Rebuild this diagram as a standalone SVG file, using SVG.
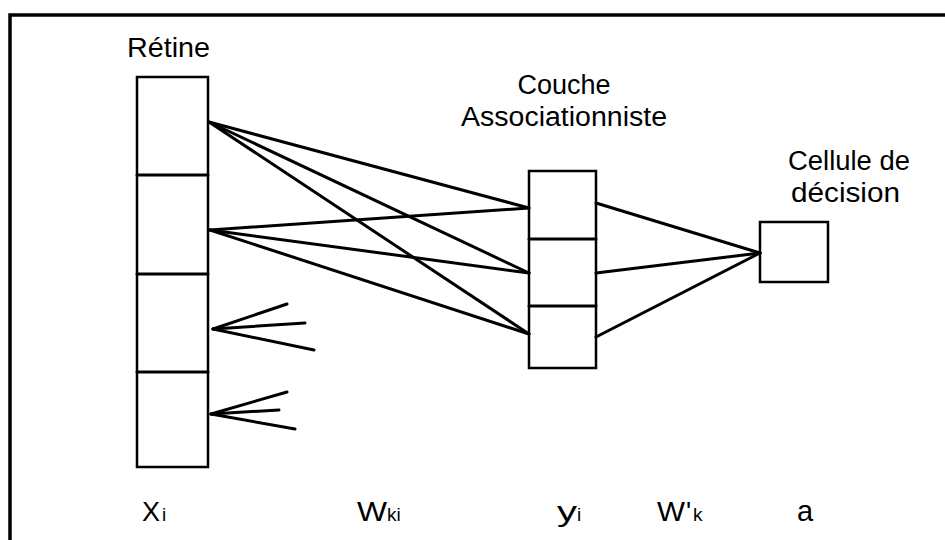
<svg xmlns="http://www.w3.org/2000/svg" width="945" height="540" viewBox="0 0 945 540">
<style>
.box{fill:#fff;stroke:#000;stroke-width:2.5}
.ln{stroke:#000;stroke-width:3;stroke-linecap:round;fill:none}
.t{font-family:"Liberation Sans",Arial,sans-serif;fill:#000}
.sub{font-size:19px}
</style>
<rect width="945" height="540" fill="#fff"/>
<g id="frame">
<path d="M10 540 V15 H945" fill="none" stroke="#000" stroke-width="3.5"/>
</g>
<g id="retine">
<text class="t" x="127" y="57" font-size="28" textLength="83" lengthAdjust="spacingAndGlyphs">Rétine</text>
<rect class="box" x="137" y="77" width="71" height="390"/>
<line class="ln" x1="137" y1="175" x2="208" y2="175"/>
<line class="ln" x1="137" y1="274" x2="208" y2="274"/>
<line class="ln" x1="137" y1="372" x2="208" y2="372"/>
</g>
<g id="couche">
<text class="t" x="564" y="94" font-size="27" text-anchor="middle">Couche</text>
<text class="t" x="461" y="126" font-size="27" textLength="206" lengthAdjust="spacingAndGlyphs">Associationniste</text>
<rect class="box" x="529" y="171" width="67" height="197"/>
<line class="ln" x1="529" y1="239" x2="596" y2="239"/>
<line class="ln" x1="529" y1="306" x2="596" y2="306"/>
</g>
<g id="decision">
<text class="t" x="788" y="170" font-size="27" textLength="122" lengthAdjust="spacingAndGlyphs">Cellule de</text>
<text class="t" x="791" y="202" font-size="27" textLength="109" lengthAdjust="spacingAndGlyphs">décision</text>
<rect class="box" x="760" y="222" width="68" height="60"/>
</g>
<g id="connectors">
<line class="ln" x1="209" y1="122" x2="529" y2="208"/>
<line class="ln" x1="209" y1="122" x2="529" y2="273"/>
<line class="ln" x1="209" y1="122" x2="529" y2="334"/>
<line class="ln" x1="210" y1="230" x2="529" y2="208"/>
<line class="ln" x1="210" y1="230" x2="529" y2="273"/>
<line class="ln" x1="210" y1="230" x2="529" y2="334"/>
<line class="ln" x1="213" y1="329" x2="287" y2="304"/>
<line class="ln" x1="213" y1="329" x2="305" y2="323"/>
<line class="ln" x1="213" y1="329" x2="314" y2="350"/>
<line class="ln" x1="211" y1="414" x2="287" y2="392"/>
<line class="ln" x1="211" y1="414" x2="279" y2="410"/>
<line class="ln" x1="211" y1="414" x2="295" y2="429"/>
<line class="ln" x1="596" y1="203" x2="760" y2="253"/>
<line class="ln" x1="596" y1="273" x2="760" y2="253"/>
<line class="ln" x1="596" y1="337" x2="760" y2="253"/>
</g>
<g id="labels">
<text class="t" x="142" y="521" font-size="27">X<tspan x="162" class="sub">i</tspan></text>
<text class="t" x="357" y="521" font-size="27"><tspan textLength="30" lengthAdjust="spacingAndGlyphs">W</tspan><tspan x="387" class="sub">ki</tspan></text>
<text class="t" x="557" y="521" font-size="28"><tspan textLength="20" lengthAdjust="spacingAndGlyphs">y</tspan><tspan x="577" class="sub">i</tspan></text>
<text class="t" x="657" y="521" font-size="27"><tspan textLength="28" lengthAdjust="spacingAndGlyphs">W</tspan><tspan x="686">'</tspan><tspan x="693" class="sub">k</tspan></text>
<text class="t" x="797" y="521" font-size="29">a</text>
</g>
</svg>
